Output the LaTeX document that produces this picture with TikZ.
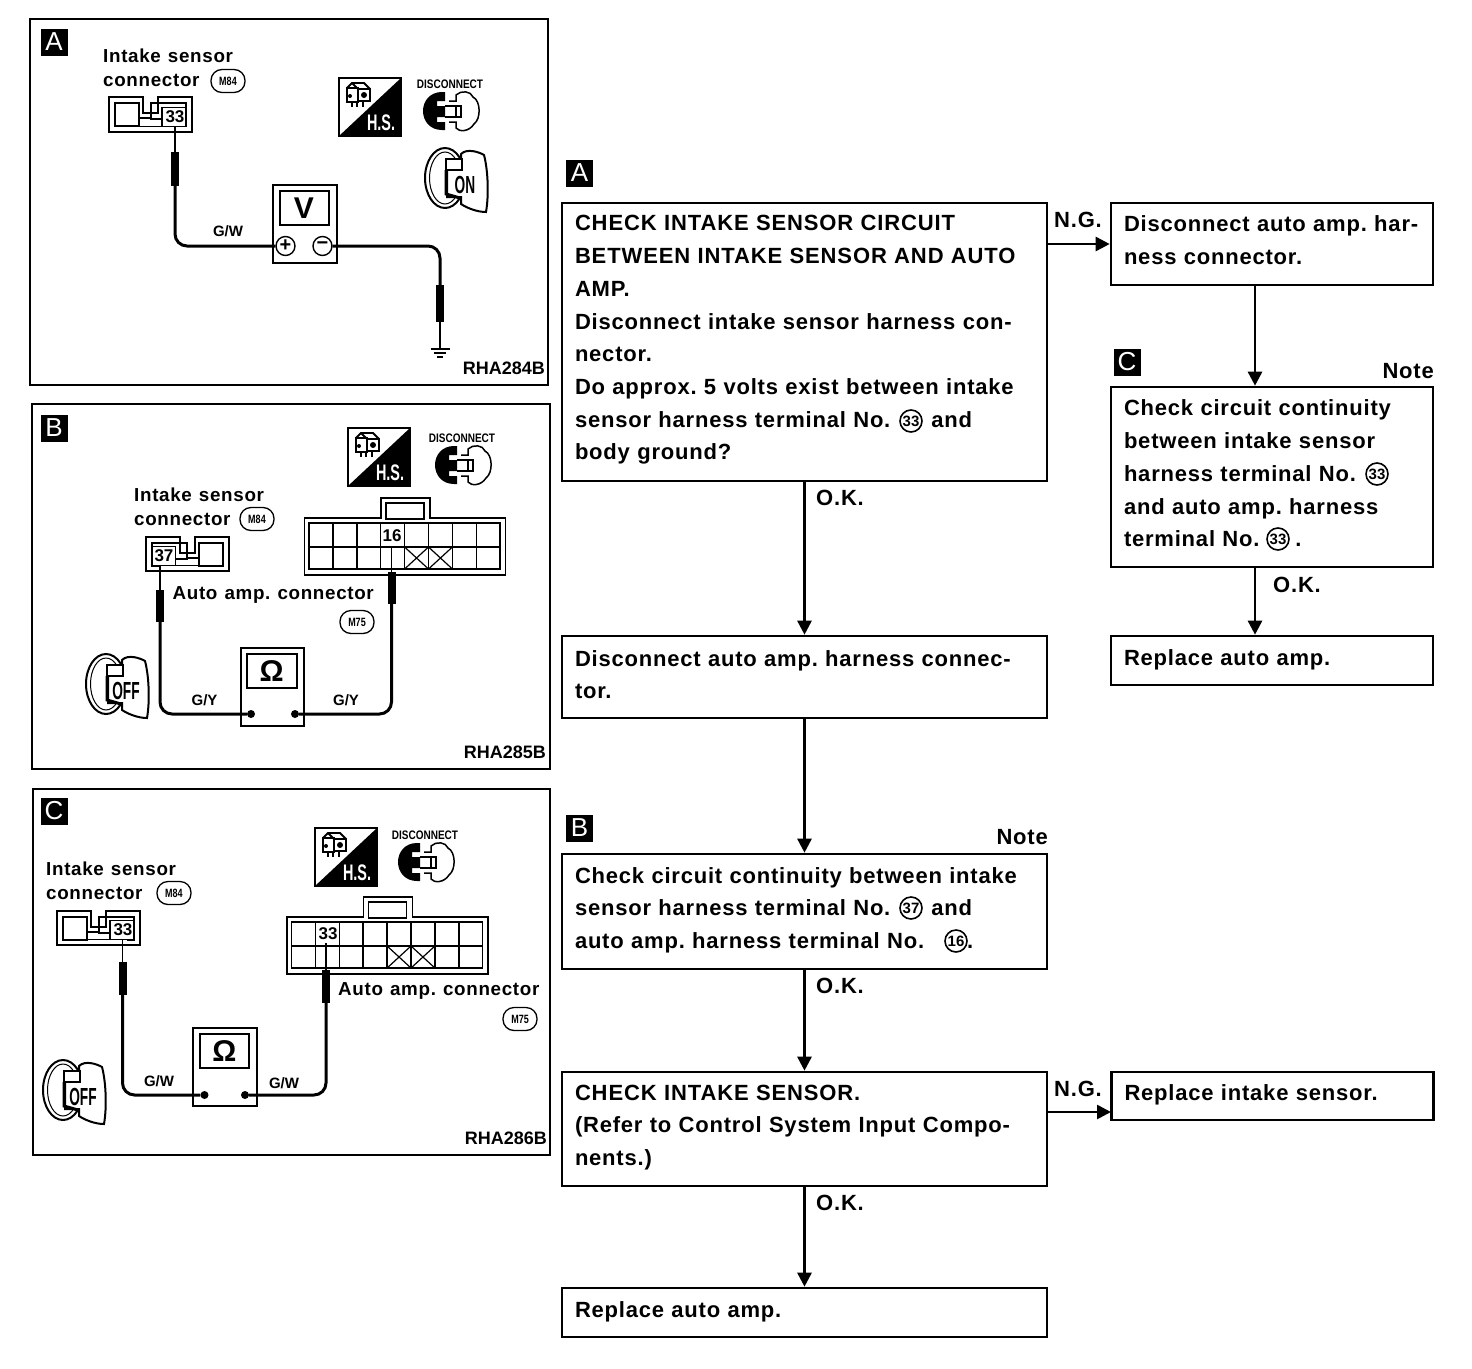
\documentclass[tikz,border=0pt]{standalone}
\usepackage{graphicx}
\usepackage{fontspec}
\setmainfont[LetterSpace=3.6,WordSpace=1.2]{Liberation Sans}
\newfontfamily\capfont[LetterSpace=4,WordSpace=1.2]{Liberation Sans}
\newfontfamily\tightfont{Liberation Sans}
\frenchspacing
\usetikzlibrary{shapes,arrows.meta,positioning}
\newcommand{\narrow}[3]{\scalebox{#1}[#2]{#3}}
\tikzset{
	flowbox/.style={draw,line width=2.6pt,align=left,inner xsep=13pt,inner ysep=0pt,font=\bfseries\fontsize{22}{32.7}\selectfont},
	widebox/.style={text width=459pt,minimum width=485pt},
	sidebox/.style={text width=296pt,minimum width=322pt},
	lift/.style={execute at end node={\par\vspace{#1}}},
	flowline/.style={line width=2.6pt,-{Triangle[length=14pt,width=14pt]}},
	flowtext/.style={inner sep=0pt,font=\bfseries\fontsize{22}{26}\selectfont},
	circno/.style={circle,draw,line width=1.6pt,fill=white,inner sep=0pt,minimum size=22pt,font=\tightfont\bfseries\fontsize{15}{15}\selectfont},
	tagbox/.style={fill=black,text=white,inner sep=0pt,minimum size=27pt,font=\tightfont\fontsize{26}{26}\selectfont},
	panel/.style={line width=2.4pt},
	paneltext/.style={inner sep=0pt,anchor=base west,font=\bfseries\fontsize{18.8}{24}\selectfont},
	wirelabel/.style={inner sep=0pt,font=\tightfont\bfseries\fontsize{15}{16}\selectfont},
	codelabel/.style={inner sep=0pt,anchor=base east,font=\tightfont\bfseries\fontsize{18}{18}\selectfont},
	harness/.style={draw,rounded corners=11pt,line width=1.3pt,minimum width=34pt,minimum height=23pt,inner sep=0pt,font=\tightfont\bfseries\fontsize{12}{12}\selectfont},
	pinno/.style={fill=white,inner sep=.5pt,font=\tightfont\bfseries\fontsize{17}{17}\selectfont},
	thinwire/.style={line width=1.6pt},
	wire/.style={line width=3pt,rounded corners=12pt},
	sleeve/.style={line width=8pt},
	termdot/.style={circle,fill=black,inner sep=0pt,minimum size=8pt},
	termring/.style={circle,draw,line width=1.4pt,fill=white,inner sep=0pt,minimum size=19pt,font=\tightfont\bfseries\fontsize{20}{20}\selectfont},
	pics/hsicon/.style={code={
		\draw[line width=1.5pt] (0,0) rectangle (62,58);
		\fill (62,0) -- (62,58) -- (0,58) -- cycle;
		\node[inner sep=0pt,text=white,font=\tightfont\bfseries\fontsize{18}{18}\selectfont] (-hs) at (42,45) {\narrow{.8}{1.25}{H.S.}};
		\draw[line width=1.8pt] (8,10) rectangle (19,24) (19,11) rectangle (31,23) (8,10) -- (13,5) -- (25,5) -- (31,11) (13,5) -- (19,11);
		\fill (11,18) circle (2pt) (25,17) circle (3pt);
		\foreach \x in {13,18,24} \draw[line width=1.2pt] (\x,23) -- (\x,29);
	}},
	pics/plugicon/.style={code={
		\fill (-9,-19) .. controls (-21,-19) and (-28,-10) .. (-28,0) .. controls (-28,10) and (-21,19) .. (-9,19) -- (-6,19) -- (-6,11) -- (-14,11) -- (-14,6) -- (-6,6) -- (-6,-5) -- (-14,-5) -- (-14,-10) -- (-6,-10) -- (-6,-19) -- cycle;
		\draw[line width=1.5pt] (-2,-10) -- (5,-10) -- (5,-16) .. controls (10,-21) and (20,-20) .. (22,-14) .. controls (30,-10) and (30,8) .. (23,13) .. controls (18,21) and (8,21) .. (5,17) -- (5,11) -- (-2,11);
		\draw[line width=1.5pt] (-6,-5) -- (5,-5) -- (5,6) -- (-6,6) (5,-5) -- (10,-5) -- (10,6) -- (5,6);
		\node[inner sep=0pt,font=\tightfont\bfseries\fontsize{13}{13}\selectfont] (-label) at (-1,-27) {\narrow{.77}{.95}{DISCONNECT}};
	}},
	pics/keyicon/.style={code={
		\draw[line width=2pt] (-10,-2) ellipse (20pt and 30pt);
		\draw[line width=1pt] (-10,-2) ellipse (15.5pt and 26pt);
		\draw[line width=2pt,fill=white] (6,-26) .. controls (12,-32) and (24,-28) .. (29,-25) .. controls (33,-10) and (34,15) .. (31,32) .. controls (22,32) and (12,28) .. (6,24) -- (6,17) -- (-8,17) -- (-8,-12) -- (6,-12) -- cycle;
		\draw[line width=2pt,fill=white] (-9,-21) rectangle (7,-10);
		\draw[line width=3pt] (-9,-10) -- (-9,14) -- (5,18);
		\node[inner sep=0pt,font=\tightfont\bfseries\fontsize{19}{19}\selectfont] (-label) at (10,5) {\narrow{.72}{1.3}{#1}};
	}},
	pics/smallconn/.style={code={
		\draw[line width=1.8pt] (0,0) -- (34,0) -- (34,16) -- (49,16) -- (49,0) -- (83,0) -- (83,34.5) -- (0,34.5) -- cycle;
		\draw[line width=1.8pt] (6,6) rectangle (30,29);
		\draw[line width=1.8pt] (30,21) -- (42,21) -- (42,22) -- (55,22) (42,22) -- (42,6) -- (77,6) -- (77,29) -- (70,29);
		\draw[line width=1pt] (30,29) -- (55,29);
		\draw[line width=1.4pt,fill=white] (53,10) rectangle (76.5,29);
	}},
	pics/bigconn/.style={code={
		\draw[line width=1.6pt] (0,0) -- (76.5,0) -- (76.5,-20) -- (125.5,-20) -- (125.5,0) -- (201,0) -- (201,57) -- (0,57) -- cycle;
		\draw[line width=1.6pt] (81.5,-15) rectangle (119.5,1);
		\draw[line width=1.8pt] (4.5,5) rectangle (195.5,51);
		\draw[line width=1.8pt] (4.5,29) -- (195.5,29);
		\foreach \x in {1,...,7} \draw[line width=1.5pt] (4.5+23.9*\x,5) -- (4.5+23.9*\x,51);
		\foreach \x in {4,5} \draw[line width=1.2pt] (4.5+23.9*\x,29) -- (4.5+23.9*\x+23.9,51) (4.5+23.9*\x,51) -- (4.5+23.9*\x+23.9,29);
	}},
	pics/meter/.style={code={
		\draw[line width=2pt,fill=white] (0,0) rectangle (63.5,78);
		\draw[line width=2pt] (6.5,6) rectangle (56,40);
		\node[inner sep=0pt,font=\tightfont\bfseries\fontsize{30}{30}\selectfont] (-symbol) at (31,23) {#1};
	}},
}
\begin{document}
\begin{tikzpicture}[x=1pt,y=-1pt]
	\useasboundingbox (0,0) rectangle (1472,1368);
	% left panels
	\draw[panel] (30,19) rectangle (548,385);
	\draw[panel] (32,404) rectangle (550,769);
	\draw[panel] (33,789) rectangle (550,1155);
	\node[tagbox] (taga) at (54,42) {A};
	\node[tagbox] (tagb) at (54,428) {B};
	\node[tagbox] (tagc) at (54,811) {C};
	\node[codelabel] (codea) at (545,374) {RHA284B};
	\node[codelabel] (codeb) at (546,758) {RHA285B};
	\node[codelabel] (codec) at (547,1144) {RHA286B};

	\pic (hsa) at (339,78) {hsicon};
	\pic (hsb) at (348,428) {hsicon};
	\pic (hsc) at (315,828) {hsicon};
	\pic (pluga) at (451,111) {plugicon};
	\pic (plugb) at (463,465) {plugicon};
	\pic (plugc) at (426,862) {plugicon};
	\pic (keya) at (455,180) {keyicon=ON};
	\pic (keyb) at (116,686) {keyicon=OFF};
	\pic (keyc) at (73,1092) {keyicon=OFF};

	% panel A
	\node[paneltext] (intakea) at (103,62) {Intake sensor};
	\node[paneltext] (conna) at (103,86) {connector};
	\node[harness] (m84a) at (228,81) {\narrow{.75}{1}{M84}};
	\pic (sensa) at (109,97.3) {smallconn};
	\node[pinno,fill=none,inner sep=0pt] (pina) at (175,117) {33};
	\coordinate (pinaend) at (175,127);
	\pic (voltm) at (273,185) {meter=V};
	\node[termring] (vplus) at (285.5,246) {+};
	\node[termring] (vminus) at (322.5,246) {−};
	\node[wirelabel] (gwa) at (228,231) {G/W};
	\coordinate (gnd) at (440,348);
	\draw[thinwire] (pinaend) -- (175,155);
	\draw[sleeve] (175,152) -- (175,186);
	\draw[wire] (175,186) |- (vplus);
	\draw[wire] (vminus) -| (440,290);
	\draw[sleeve] (440,285) -- (440,322);
	\draw[thinwire] (440,322) -- (gnd);
	\draw[line width=1.6pt] (430.5,349) -- (449.5,349) (434,353) -- (446,353) (437,357) -- (443,357);

	% panel B
	\node[paneltext] (intakeb) at (134,501) {Intake sensor};
	\node[paneltext] (connb) at (134,525) {connector};
	\node[harness] (m84b) at (257,519) {\narrow{.75}{1}{M84}};
	\pic[xscale=-1] (sensb) at (228.6,536.7) {smallconn};
	\pic (bigb) at (304.5,518) {bigconn};
	\node[pinno,fill=none,inner sep=0pt] (pinb) at (164,556) {37};
	\node[pinno] (pinc) at (392,536) {16};
	\node[paneltext] (autob) at (172.4,599) {Auto amp. connector};
	\node[harness] (m75b) at (357,622) {\narrow{.75}{1}{M75}};
	\coordinate (pinbend) at (160,566);
	\coordinate (pincend) at (391.5,546);
	\pic (ohmb) at (240.7,648) {meter=Ω};
	\node[termdot] (ohmbl) at (251,714) {};
	\node[termdot] (ohmbr) at (295,714) {};
	\node[wirelabel] (gyl) at (204.5,700) {G/Y};
	\node[wirelabel] (gyr) at (346,700) {G/Y};
	\draw[thinwire] (pinbend) -- (160,592);
	\draw[sleeve] (160,590) -- (160,622);
	\draw[wire] (160,622) |- (ohmbl);
	\draw[thinwire] (pincend) -- (391.5,574);
	\draw[sleeve] (391.5,572) -- (391.5,604);
	\draw[wire] (391.5,604) |- (ohmbr);

	% panel C
	\node[paneltext] (intakec) at (46,875) {Intake sensor};
	\node[paneltext] (connc) at (46,899) {connector};
	\node[harness] (m84c) at (174,893) {\narrow{.75}{1}{M84}};
	\pic (sensc) at (57,910.7) {smallconn};
	\pic (bigc) at (287,917) {bigconn};
	\node[pinno,fill=none,inner sep=0pt] (pind) at (123,930) {33};
	\node[pinno] (pine) at (328,934) {33};
	\node[paneltext] (autoc) at (338,995) {Auto amp. connector};
	\node[harness] (m75c) at (520,1019) {\narrow{.75}{1}{M75}};
	\coordinate (pindend) at (122.5,940);
	\coordinate (pineend) at (326,943);
	\pic (ohmc) at (193.4,1028) {meter=Ω};
	\node[termdot] (ohmcl) at (204.5,1095) {};
	\node[termdot] (ohmcr) at (245,1095) {};
	\node[wirelabel] (gwl) at (159,1081) {G/W};
	\node[wirelabel] (gwr) at (284,1083) {G/W};
	\draw[thinwire] (pindend) -- (122.5,964);
	\draw[sleeve] (122.5,962) -- (122.5,995);
	\draw[wire] (122.5,995) |- (ohmcl);
	\draw[thinwire] (pineend) -- (326,972);
	\draw[sleeve] (326,970) -- (326,1003);
	\draw[wire] (326,1003) |- (ohmcr);

	% flow chart
	\node[flowbox,widebox,lift=4pt,minimum height=278pt] (check) at (804.5,342) {\capfont CHECK INTAKE SENSOR CIRCUIT\\BETWEEN INTAKE SENSOR AND AUTO\\AMP.\\\rmfamily Disconnect intake sensor harness con-\\nector.\\Do approx. 5 volts exist between intake\\sensor harness terminal No.\hspace{41pt}and\\body ground?};
	\node[flowbox,widebox,lift=5pt,minimum height=82pt] (discon) at (804.5,677) {Disconnect auto amp. harness connec-\\tor.};
	\node[flowbox,widebox,lift=3pt,minimum height=115pt] (cont) at (804.5,911.5) {Check circuit continuity between intake\\sensor harness terminal No.\hspace{41pt}and\\auto amp. harness terminal No.\hspace{43pt}.};
	\node[flowbox,widebox,lift=3pt,minimum height=114pt] (sensor) at (804.5,1129) {\capfont CHECK INTAKE SENSOR.\\\rmfamily(Refer to Control System Input Compo-\\nents.)};
	\node[flowbox,widebox,lift=2pt,minimum height=49pt] (replamp) at (804.5,1312.5) {Replace auto amp.};
	\node[flowbox,sidebox,lift=8pt,minimum height=82pt] (discside) at (1272,244) {Disconnect auto amp. har-\\ness connector.};
	\node[flowbox,sidebox,lift=7pt,minimum height=180pt] (contside) at (1272,477) {Check circuit continuity\\between intake sensor\\harness terminal No.\\and auto amp. harness\\terminal No.\hspace{36pt}.};
	\node[flowbox,sidebox,lift=2pt,minimum height=49pt] (replside) at (1272,660.5) {Replace auto amp.};
	\node[flowbox,sidebox,lift=2pt,minimum height=48pt] (replsens) at (1272.5,1096) {Replace intake sensor.};

	\node[circno] (noa) at (911,421) {33};
	\node[circno] (nob) at (911,908) {37};
	\node[circno] (noc) at (956,941) {16};
	\node[circno] (nod) at (1377,474) {33};
	\node[circno] (noe) at (1278,539) {33};

	\node[tagbox] (flowa) at (579.5,173) {A};
	\node[tagbox] (flowb) at (579.5,828) {B};
	\node[tagbox] (flowc) at (1127,362) {C};
	\node[flowtext,anchor=east] (notea) at (1048,837) {Note};
	\node[flowtext,anchor=east] (noteb) at (1434,371) {Note};
	\node[flowtext] (oka) at (840,498) {O.K.};
	\node[flowtext] (okb) at (840,986) {O.K.};
	\node[flowtext] (okc) at (840,1203) {O.K.};
	\node[flowtext] (okd) at (1297,585) {O.K.};
	\node[flowtext] (nga) at (1078,220) {N.G.};
	\node[flowtext] (ngb) at (1078,1089) {N.G.};

	\coordinate (sidex) at (1255,300);
	\coordinate (ngend) at (1111,1112);
	\draw[flowline] (check) -- (discon);
	\draw[flowline] (discon) -- (cont);
	\draw[flowline] (cont) -- (sensor);
	\draw[flowline] (sensor) -- (replamp);
	\draw[flowline] (check.east |- discside) -- (discside);
	\draw[flowline] (sidex |- discside.south) -- (sidex |- contside.north);
	\draw[flowline] (sidex |- contside.south) -- (sidex |- replside.north);
	\draw[flowline] (sensor.east |- ngend) -- (ngend);
\end{tikzpicture}
\end{document}
